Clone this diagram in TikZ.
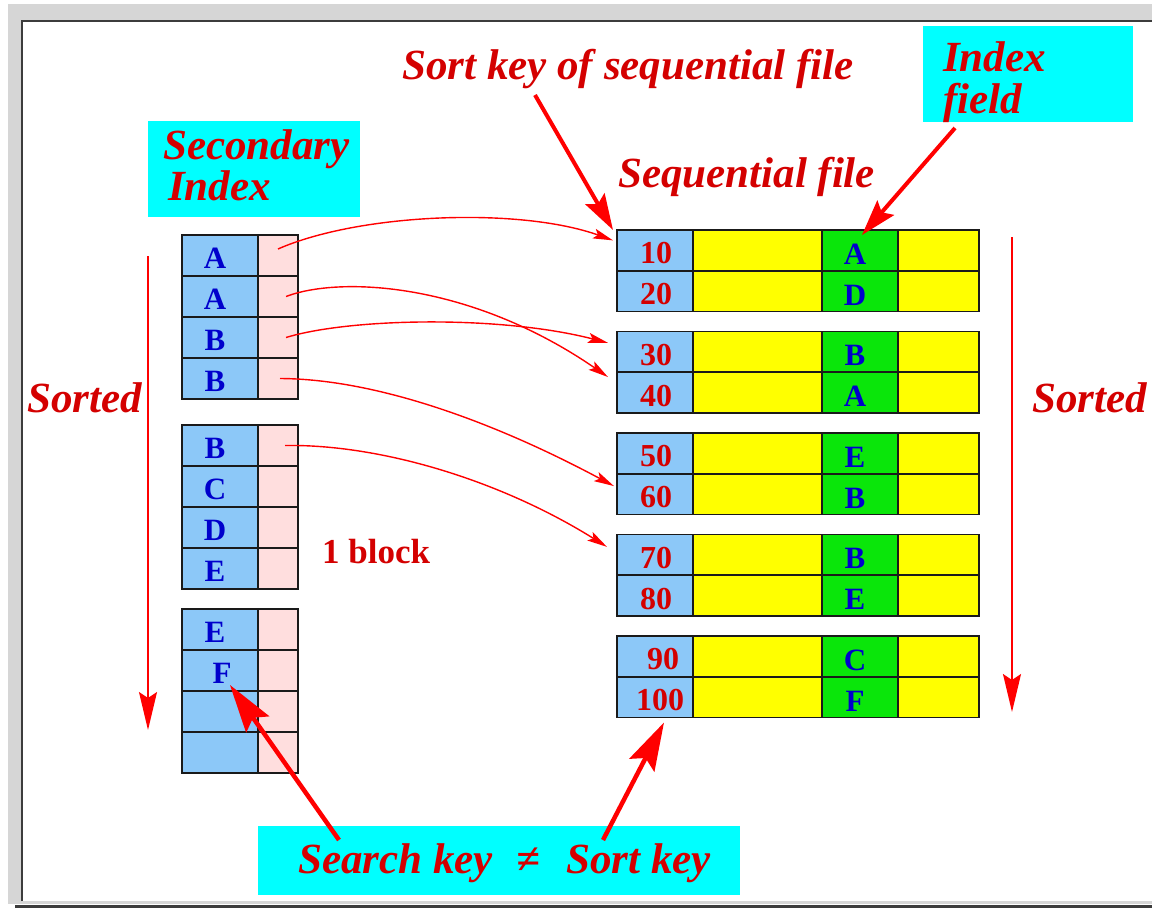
\documentclass[tikz,border=0pt]{standalone}
\usepackage{fontspec}
\setmainfont{Liberation Serif}
\usetikzlibrary{arrows.meta}

\definecolor{framegray}{HTML}{D6D6D6}
\definecolor{framedark}{HTML}{3C3C3C}
\definecolor{edgecol}{HTML}{1A1A1A}
\definecolor{keyblue}{HTML}{8CC8F8}
\definecolor{ptrpink}{HTML}{FFDEDE}
\definecolor{fldgreen}{HTML}{0AE60A}
\definecolor{datayellow}{HTML}{FFFF00}
\definecolor{notecyan}{HTML}{00FFFF}
\definecolor{txtred}{HTML}{D40000}
\definecolor{txtblue}{HTML}{0000CC}
\definecolor{arrred}{HTML}{FF0000}

\begin{document}
\begin{tikzpicture}[x=1pt,y=-1pt,
  tcell/.style={draw=edgecol, line width=1.8pt, inner sep=0pt, outer sep=0pt,
                anchor=north west},
  idxkey/.style={tcell, fill=keyblue, minimum width=76pt, minimum height=41pt},
  idxptr/.style={tcell, fill=ptrpink, minimum width=40pt, minimum height=41pt},
  seqkey/.style={tcell, fill=keyblue, minimum width=76pt, minimum height=40.75pt},
  seqdata/.style={tcell, fill=datayellow, minimum width=#1, minimum height=40.75pt},
  seqfld/.style={tcell, fill=fldgreen, minimum width=76pt, minimum height=40.75pt},
  notebox/.style={fill=notecyan, inner sep=0pt, outer sep=0pt, anchor=north west},
  keytxt/.style={text=txtblue, font=\fontsize{31}{31}\selectfont\bfseries,
                 inner sep=0pt, anchor=base},
  numtxt/.style={text=txtred, font=\fontsize{32}{32}\selectfont\bfseries,
                 inner sep=0pt, anchor=base},
  lbl/.style={text=txtred, font=\fontsize{43}{43}\selectfont\bfseries\itshape,
              inner sep=0pt, anchor=base west},
  lbltwo/.style={text=txtred, font=\fontsize{43}{#1}\selectfont\bfseries\itshape,
              inner sep=0pt, align=left, anchor=base west},
  ptr/.style={draw=arrred, line width=1.4pt,
              -{Stealth[length=20pt,width=10pt,inset=4pt]}},
  callout/.style={draw=arrred, line width=4pt,
              -{Stealth[length=36pt,width=22pt,inset=6pt]}},
  calloutlong/.style={draw=arrred, line width=4.5pt,
              -{Stealth[length=48pt,width=28pt,inset=8pt]}},
  sortline/.style={draw=arrred, line width=1.8pt,
              -{Stealth[length=38pt,width=18pt,inset=6pt]}}
]

\useasboundingbox (0,0) rectangle (1152,908);

% window frame
\fill[white] (0,0) rectangle (1152,908);
\fill[framegray] (8,4) rectangle (1152,904);
\fill[white] (23,21) rectangle (1152,901);
\draw[framedark, line width=2pt] (22,901) -- (22,20.5) -- (1152,20.5);
\fill[framedark] (15,905) rectangle (1152,908);

% note boxes
\node[notebox, minimum width=212pt, minimum height=96pt] (secbox) at (148,121) {};
\node[notebox, minimum width=210pt, minimum height=96pt] (fldbox) at (923,26) {};
\node[notebox, minimum width=482pt, minimum height=69pt] (keybox) at (258,826) {};

% labels (two-line labels are placed by the baseline of their last line)
\node[lbltwo=38] (seclbl) at (163,200) {Secondary\\\hspace*{5pt}Index};
\node[lbltwo=42] (fldlbl) at (943,113) {Index\\field};
\node[lbl] (sortkeylbl) at (402,79) {Sort key of sequential file};
\node[lbl] (seqlbl) at (618,187) {Sequential file};
\node[lbl] (sortedL) at (27,412) {Sorted};
\node[lbl] (sortedR) at (1032,412) {Sorted};
\node[lbl] (keylbl) at (298,873) {Search key\hspace{24pt}≠\hspace{26pt}Sort key};
\node[text=txtred, font=\fontsize{35}{35}\selectfont\bfseries, inner sep=0pt,
      anchor=base west] (blocklbl) at (322,563) {1 block};

% secondary index: three blocks of four entries
\foreach \n/\y in {1/235,2/276,3/317,4/358,5/425,6/466,7/507,8/548,
                   9/609,10/650,11/691,12/732} {
  \node[idxkey] (i\n) at (182,\y) {};
  \node[idxptr] (p\n) at (258,\y) {};
}
\foreach \n/\t in {1/A,2/A,3/B,4/B,5/B,6/C,7/D,8/E,9/E} {
  \node[keytxt] (it\n) at ([yshift=-12.5pt,xshift=-5pt]i\n.center) {\t};
}
\node[keytxt] (it10) at ([yshift=-12.5pt,xshift=2pt]i10.center) {F};

% sequential file: five blocks of two records
\foreach \n/\y/\f in {1/230/A,2/270.75/D,3/331.5/B,4/372.25/A,5/433/E,
                      6/473.75/B,7/534.5/B,8/575.25/E,9/636/C,10/676.75/F} {
  \node[seqkey] (k\n) at (617,\y) {};
  \node[seqdata=129pt] (d\n) at (693,\y) {};
  \node[seqfld] (g\n) at (822,\y) {};
  \node[seqdata=81pt] (e\n) at (898,\y) {};
  \node[keytxt] (gt\n) at ([yshift=-14pt,xshift=-5pt]g\n.center) {\f};
}
\foreach \n/\v in {1/10,2/20,3/30,4/40,5/50,6/60,7/70,8/80} {
  \node[numtxt] (kt\n) at ([yshift=-13.5pt,xshift=1pt]k\n.center) {\v};
}
\node[numtxt] (kt9) at ([yshift=-13.5pt,xshift=8pt]k9.center) {90};
\node[numtxt] (kt10) at ([yshift=-13.5pt,xshift=5pt]k10.center) {100};

% pointers from index entries to records
\draw[ptr] ([yshift=6.5pt]p1.center) .. controls (360,213) and (520,207)
  .. ([xshift=-4pt,yshift=10pt]k1.west);
\draw[ptr] ([xshift=8pt]p2.center) .. controls (340,276) and (470,282)
  .. ([xshift=-9pt,yshift=15.6pt]k4.west);
\draw[ptr] ([xshift=8pt]p3.center) .. controls (350,318) and (500,315)
  .. ([xshift=-9pt,yshift=9pt]k3.west);
\draw[ptr] ([xshift=2pt]p4.center) .. controls (380,379) and (500,425)
  .. ([xshift=-3pt,yshift=8pt]k6.west);
\draw[ptr] ([xshift=7pt]p5.center) .. controls (380,444) and (500,480)
  .. ([xshift=-10pt,yshift=8pt]k7.west);

% sort order arrows
\coordinate (sortLtop) at (148,256);
\coordinate (sortLend) at (148,730);
\coordinate (sortRtop) at (1012,237);
\coordinate (sortRend) at (1012,712);
\draw[sortline] (sortLtop) -- (sortLend);
\draw[sortline] (sortRtop) -- (sortRend);

% callout arrows
\coordinate (sortkeyfoot) at (535,95);
\draw[callout] (sortkeyfoot) -- ([xshift=-4pt]k1.north west);
\draw[callout] ([xshift=32pt,yshift=-6pt]fldbox.south west)
  -- ([xshift=2pt,yshift=-5pt]g1.north);
\coordinate (searchfoot) at (339,840);
\coordinate (sortfoot) at (603,840);
\draw[calloutlong] (searchfoot) -- ([xshift=10pt,yshift=6pt]i10.south);
\draw[calloutlong] (sortfoot) -- ([xshift=9pt,yshift=-5pt]k10.south);

\end{tikzpicture}
\end{document}
